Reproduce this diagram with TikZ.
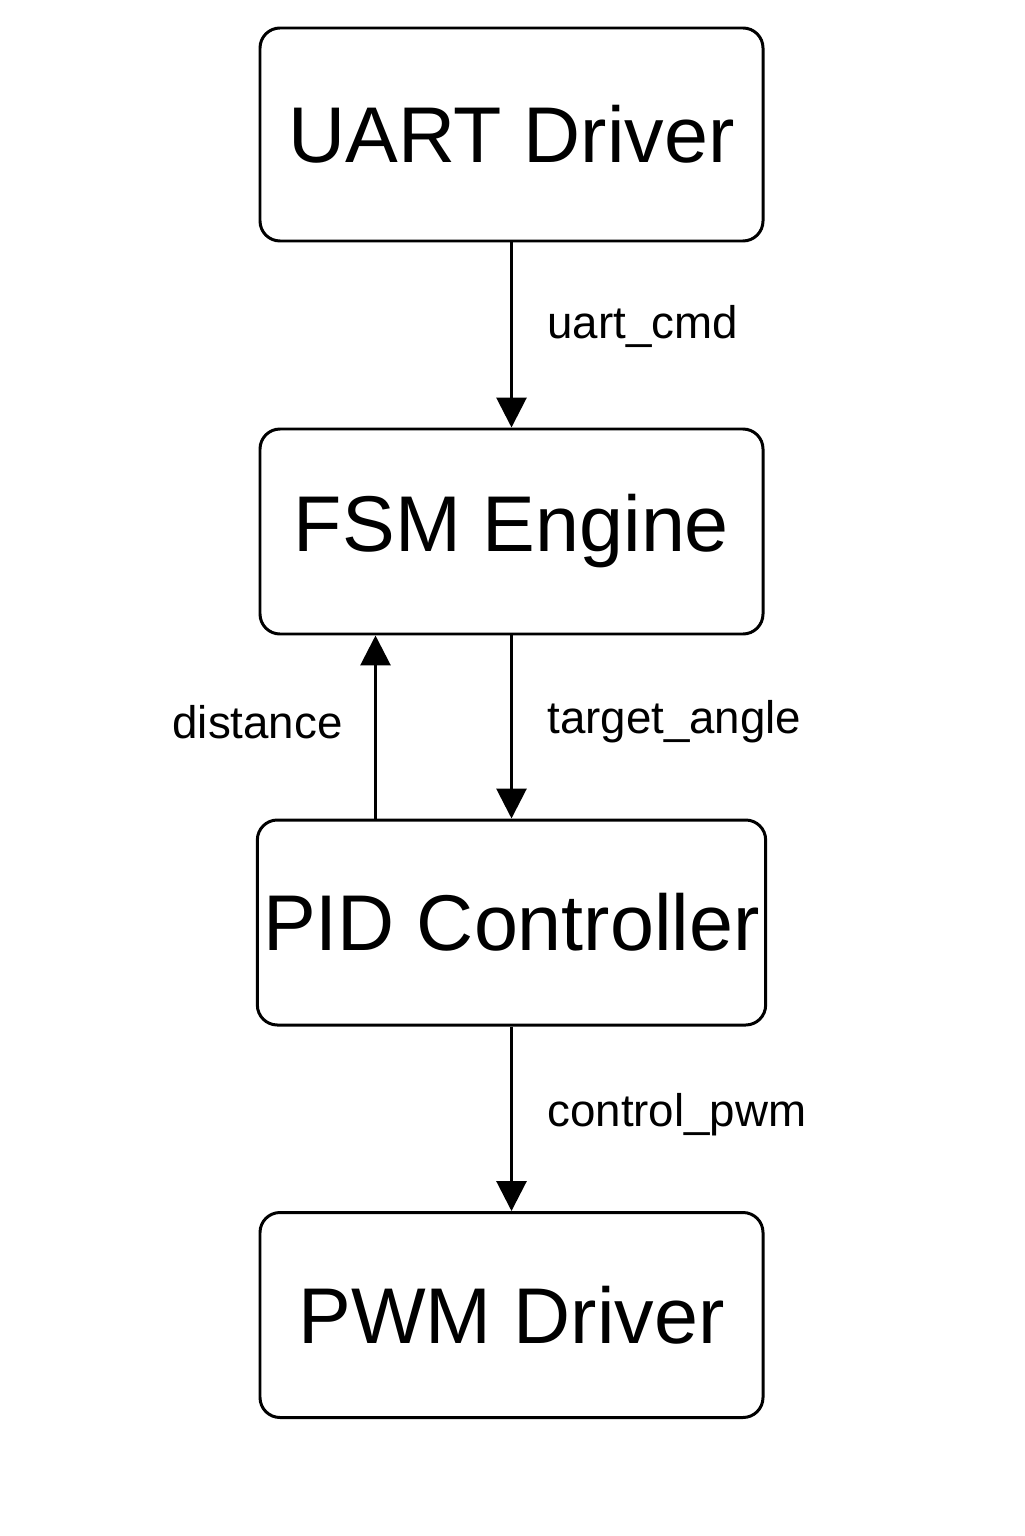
\documentclass[tikz,border=0pt]{standalone}
\usepackage{fontspec}
\setmainfont{Liberation Sans}
\usetikzlibrary{arrows.meta}
\begin{document}
\begin{tikzpicture}[auto, line width = 1.7pt,
            block/.style ={rectangle, rounded corners = 0.4cm, draw, black,
            minimum width = 10.06cm, minimum height = 4.1cm, font = \fontsize{45}{50}\selectfont},
            lbl/.style ={font = \fontsize{26}{30}\selectfont},
            flow/.style ={-{Triangle[length = 0.6cm, width = 0.6cm]}}]

        \useasboundingbox (0, 0) rectangle (20.48, -30.72);

        %bloques
        \node[block, minimum height = 4.26cm] (UART) at (10.23, -2.69) {UART Driver};
        \node[block] (FSM) at (10.23, -10.63) {FSM Engine};
        \node[block] (PID) at (10.23, -18.45) {PID Controller};
        \node[block] (PWM) at (10.23, -26.3) {PWM Driver};

        %flechas
        \path[draw, flow] (UART) -- (FSM);
        \path[draw, flow] (FSM) -- (PID);
        \path[draw, flow] (PID) -- (PWM);
        \path[draw, flow] ([xshift = -2.72cm]PID.north) -- ([xshift = -2.72cm]FSM.south);

        %etiquetas
        \node[lbl, anchor = west] (cmd) at (10.8, -6.52) {uart\_cmd};
        \node[lbl, anchor = west] (ang) at (10.8, -14.44) {target\_angle};
        \node[lbl, anchor = east] (dst) at (7.0, -14.44) {distance};
        \node[lbl, anchor = west] (pwm) at (10.8, -22.3) {control\_pwm};
    \end{tikzpicture}
\end{document}
